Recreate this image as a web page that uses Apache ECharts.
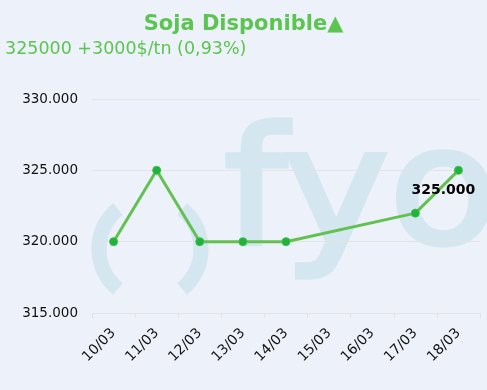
<!DOCTYPE html>
<html><head><meta charset="utf-8">
<script src="https://cdn.jsdelivr.net/npm/echarts@6/dist/echarts.min.js"></script>
<style>html,body{margin:0;padding:0;background:#edf1f9;}#c{width:487px;height:390px;}</style>
</head><body><div id="c"></div>
<script>
var categories = ['10/03','11/03','12/03','13/03','14/03','15/03','16/03','17/03','18/03'];
var values = [320000, 325000, 320000, 320000, 320000, null, null, 322000, 325000];
var titleText = 'Soja Disponible\u25B2';
var subtitleText = '325000 +3000$/tn (0,93%)';
var yMin = 315000, yMax = 330000, yStep = 5000;

function fmt(v){ return String(Math.round(v)).replace(/\B(?=(\d{3})+(?!\d))/g,'.'); }

var chart = echarts.init(document.getElementById('c'));
var lastIdx = values.length - 1;
chart.setOption({
  backgroundColor: '#edf1f9',
  animation: false,
  title: [
    {text: titleText, left: 'center', top: 9, textStyle:{fontFamily:'DejaVu Sans', fontSize:21, fontWeight:'bold', color:'#5cc450'}},
    {text: subtitleText, left: 0, top: 35, textStyle:{fontFamily:'DejaVu Sans', fontSize:17.5, fontWeight:'normal', color:'#5cc450'}}
  ],
  graphic: [
    {type:'text', z:-10, x:224, y:120, scaleX:1.1, style:{text:'fyo', font:'normal 162px "DejaVu Sans"', fill:'#d4e6f0', stroke:'#d4e6f0', lineWidth:5}},
    {type:'arc', z:-10, shape:{cx:151, cy:249, r:52, startAngle:Math.PI*0.72, endAngle:Math.PI*1.28}, style:{stroke:'#d4e6f0', lineWidth:15, fill:null}},
    {type:'arc', z:-10, shape:{cx:149, cy:249, r:52, startAngle:-Math.PI*0.28, endAngle:Math.PI*0.28}, style:{stroke:'#d4e6f0', lineWidth:15, fill:null}}
  ],
  grid: {left: 92, right: 7, top: 99, bottom: 77},
  xAxis: {
    type:'category', data: categories, boundaryGap: true,
    axisLine:{lineStyle:{color:'#e3e3e3'}},
    axisTick:{show:true, lineStyle:{color:'#e3e3e3'}},
    axisLabel:{rotate:45, color:'#111', fontFamily:'DejaVu Sans', fontSize:14, margin:18}
  },
  yAxis: {
    type:'value', min:yMin, max:yMax, interval:yStep,
    axisLine:{show:false}, axisTick:{show:false},
    splitLine:{lineStyle:{color:'#e3e3e3'}},
    axisLabel:{color:'#111', fontFamily:'DejaVu Sans', fontSize:13.5, margin:14, formatter: fmt}
  },
  series: [{
    type:'line', data: values, connectNulls: true,
    symbol:'circle', symbolSize:8,
    lineStyle:{color:'#63c152', width:3},
    itemStyle:{color:'#1fb33c', borderColor:'#3cbf4a', borderWidth:1},
    label:{
      show:true, position:'bottom', offset:[-15, 4],
      fontFamily:'DejaVu Sans', fontSize:14, fontWeight:'bold', color:'#000',
      formatter: function(p){ return p.dataIndex === lastIdx ? fmt(p.value) : ''; }
    }
  }]
});
</script></body></html>
